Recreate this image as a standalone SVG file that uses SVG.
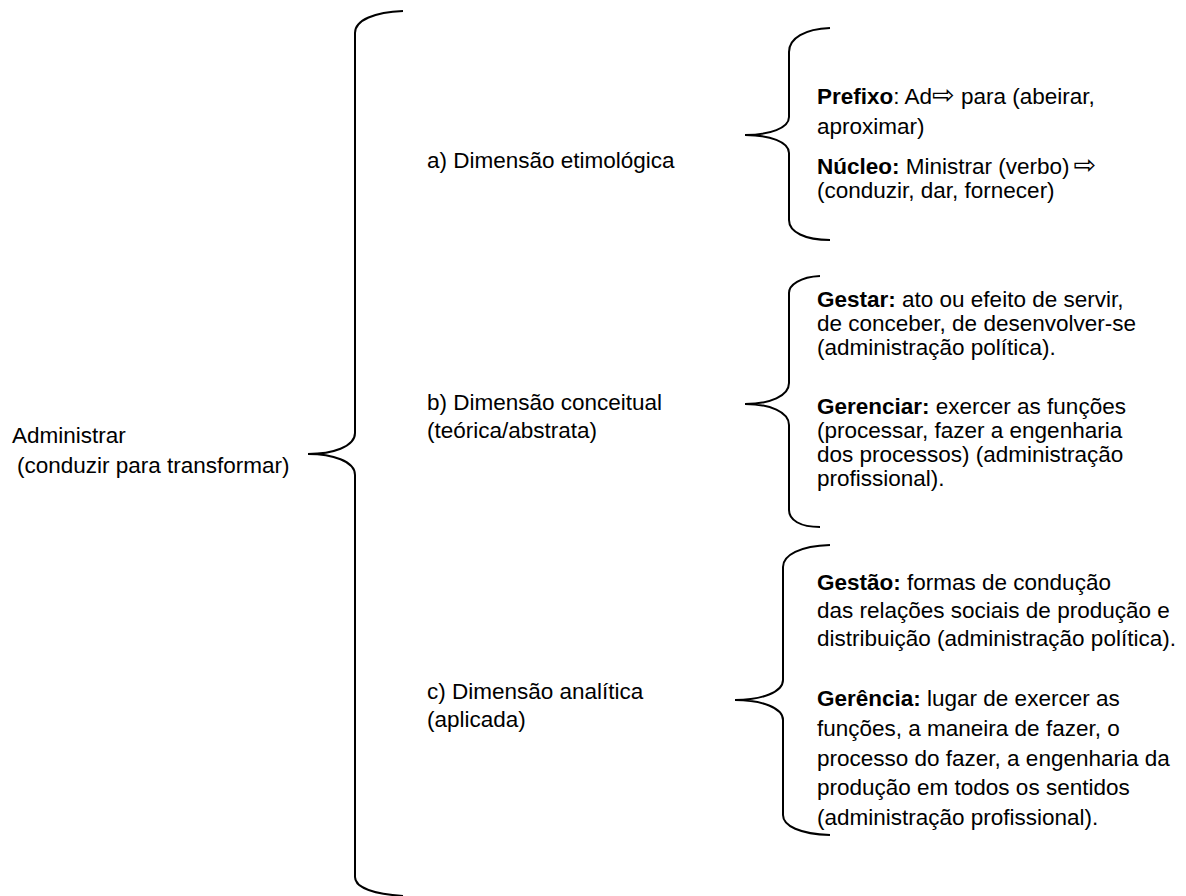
<svg xmlns="http://www.w3.org/2000/svg" width="1186" height="896" viewBox="0 0 1186 896">
<style>
text{font-family:"Liberation Sans",Arial,"DejaVu Sans",sans-serif;font-size:22.5px;fill:#000}
.b{font-weight:bold}
.ar{font-family:"DejaVu Sans",sans-serif;font-size:27px}
.br{fill:none;stroke:#000;stroke-width:2}
</style>
<rect width="1186" height="896" fill="#fff"/>
<g id="connectors">
<path class="br" d="M403,11 C375,12 355,20 355,33 L355,433 C355,447 332,454 308,454 C332,454 355,461 355,475 L355,877 C355,888 375,894 403,896"/>
<path class="br" d="M830,28 C805,29 789,38 789,52 L789,117 C789,128 770,135 745,135 C770,135 789,142 789,153 L789,220 C789,232 805,240 830,240"/>
<path class="br" d="M820,276 C800,277 789,285 789,293 L789,383 C789,396 770,404 745,404 C770,404 789,412 789,425 L789,510 C789,520 800,527 820,527"/>
<path class="br" d="M830,545 C800,546 783,555 783,567 L783,680 C783,692 762,700 735,700 C762,700 783,708 783,720 L783,815 C783,826 800,834 830,835"/>
</g>
<g id="root">
<text x="12" y="443">Administrar</text>
<text x="17" y="473">(conduzir para transformar)</text>
</g>
<g id="dim-a">
<text x="427" y="168">a) Dimensão etimológica</text>
</g>
<g id="dim-b">
<text x="427" y="410">b) Dimensão conceitual</text>
<text x="427" y="438">(teórica/abstrata)</text>
</g>
<g id="dim-c">
<text x="427" y="699">c) Dimensão analítica</text>
<text x="427" y="727">(aplicada)</text>
</g>
<g id="etim">
<text x="817" y="104"><tspan class="b">Prefixo</tspan>: Ad<tspan class="ar">⇨</tspan> para (abeirar,</text>
<text x="817" y="134">aproximar)</text>
<text x="817" y="174"><tspan class="b">Núcleo:</tspan> Ministrar (verbo)<tspan class="ar" dx="4">⇨</tspan></text>
<text x="817" y="198">(conduzir, dar, fornecer)</text>
</g>
<g id="conc">
<text x="817" y="307"><tspan class="b">Gestar:</tspan> ato ou efeito de servir,</text>
<text x="817" y="331">de conceber, de desenvolver-se</text>
<text x="817" y="355">(administração política).</text>
<text x="817" y="414"><tspan class="b">Gerenciar:</tspan> exercer as funções</text>
<text x="817" y="438">(processar, fazer a engenharia</text>
<text x="817" y="462">dos processos) (administração</text>
<text x="817" y="486">profissional).</text>
</g>
<g id="anal">
<text x="817" y="590"><tspan class="b">Gestão:</tspan> formas de condução</text>
<text x="817" y="618">das relações sociais de produção e</text>
<text x="817" y="646">distribuição (administração política).</text>
<text x="817" y="706"><tspan class="b">Gerência:</tspan> lugar de exercer as</text>
<text x="817" y="736">funções, a maneira de fazer, o</text>
<text x="817" y="766">processo do fazer, a engenharia da</text>
<text x="817" y="795">produção em todos os sentidos</text>
<text x="817" y="825">(administração profissional).</text>
</g>
</svg>
